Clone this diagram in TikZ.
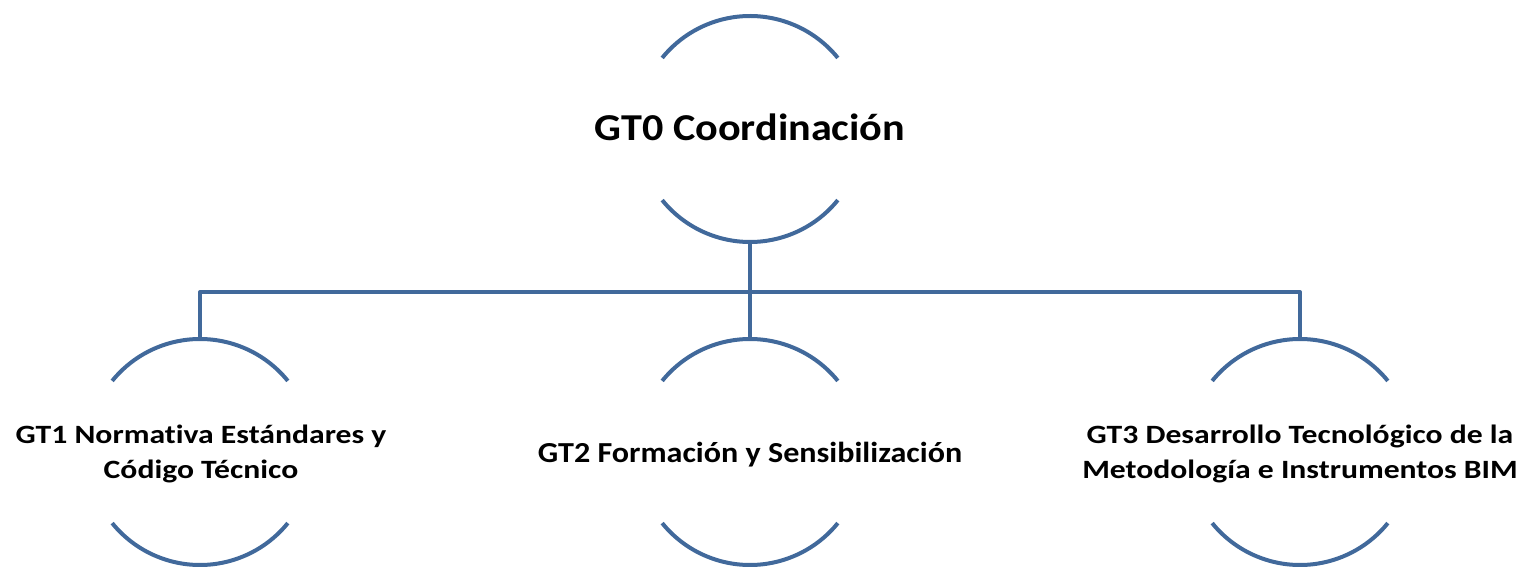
\documentclass[tikz,border=0pt]{standalone}
\usepackage{fontspec}
\setmainfont{Carlito}
\newfontfamily\fzero[FakeStretch=1.11,RawFeature=-liga]{Carlito}
\newfontfamily\fside[FakeStretch=1.20,RawFeature=-liga]{Carlito}
\newfontfamily\fmid[FakeStretch=1.107,RawFeature=-liga]{Carlito}
\definecolor{linkblue}{RGB}{65,105,155}
\begin{document}
\begin{tikzpicture}[x=1pt,y=1pt,
  ring/.style={circle,minimum size=226pt,inner sep=0pt,outer sep=0pt},
  arcline/.style={draw=linkblue,line width=4pt},
  conn/.style={draw=linkblue,line width=4pt,line join=round},
  label/.style={align=center,inner sep=0pt,anchor=base}]
\useasboundingbox (0,0) rectangle (1523,568);
\node[ring] (c0) at (750,439) {};
\node[ring] (c1) at (200,116) {};
\node[ring] (c2) at (750,116) {};
\node[ring] (c3) at (1300,116) {};
\foreach \c in {c0,c1,c2,c3}{
  \draw[arcline] ([shift={(39:113)}]\c.center) arc[start angle=39,end angle=141,radius=113];
  \draw[arcline] ([shift={(-141:113)}]\c.center) arc[start angle=-141,end angle=-39,radius=113];
}
\coordinate (bus) at (750,276);
\draw[conn] (c0.south) -- (bus);
\draw[conn] (c1.north) |- (bus) -| (c3.north);
\draw[conn] (bus) -- (c2.north);
\node[label,font=\fzero\bfseries\fontsize{38}{44}\selectfont] (t0) at (750,427) {GT0 Coordinación};
\node[label,font=\fside\bfseries\fontsize{26.4}{35}\selectfont] (t1) at (201,90) {GT1 Normativa Estándares y\\Código Técnico};
\node[label,font=\fmid\bfseries\fontsize{29}{35}\selectfont] (t2) at (750,106) {GT2 Formación y Sensibilización};
\node[label,font=\fside\bfseries\fontsize{26.4}{35}\selectfont] (t3) at (1300,90) {GT3 Desarrollo Tecnológico de la\\Metodología e Instrumentos BIM};
\end{tikzpicture}
\end{document}
